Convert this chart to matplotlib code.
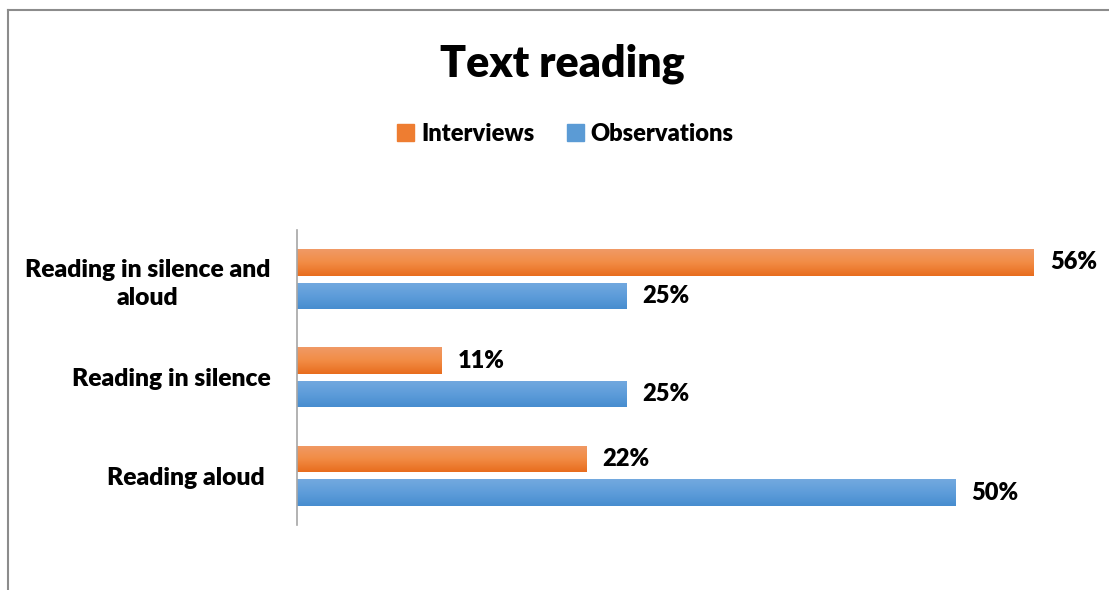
import numpy as np
import matplotlib.pyplot as plt
from matplotlib.lines import Line2D
from matplotlib.colors import LinearSegmentedColormap

categories = ['Reading aloud ', 'Reading in silence', 'Reading in silence and\naloud']
interviews = [22, 11, 56]
observations = [50, 25, 25]
series_names = ['Interviews', 'Observations']

plt.rcParams['font.family'] = ['Lato', 'DejaVu Sans']
plt.rcParams['font.weight'] = 'heavy'

W = 'heavy'
fs = 17

fig = plt.figure(figsize=(11.09, 5.90), dpi=100)
ax = fig.add_axes([0.2678, 0.1102, 0.712, 0.5])

orange_cmap = LinearSegmentedColormap.from_list('o', ['#E86D1E', '#F28C45', '#F09A66'])
blue_cmap = LinearSegmentedColormap.from_list('b', ['#478DCF', '#5E9DDA', '#73A9DF'])

y = np.arange(len(categories))
h = 0.27
off = 0.17
grad = np.linspace(0, 1, 64).reshape(-1, 1)

def grad_bars(vals, ypos, cmap, color):
    bars = ax.barh(ypos, vals, height=h, color=color, edgecolor='none')
    for b in bars:
        x0, y0 = b.get_x(), b.get_y()
        im = ax.imshow(grad, extent=[x0, x0 + b.get_width(), y0, y0 + b.get_height()],
                       cmap=cmap, aspect='auto', origin='lower', zorder=2)
        im.set_clip_path(b)
    return bars

grad_bars(interviews, y + off, orange_cmap, '#EE7D31')
grad_bars(observations, y - off, blue_cmap, '#5B9BD5')

for i in range(len(categories)):
    ax.text(interviews[i] + 1.2, y[i] + off, '%d%%' % interviews[i],
            va='center', ha='left', fontsize=fs, fontweight=W)
    ax.text(observations[i] + 1.2, y[i] - off, '%d%%' % observations[i],
            va='center', ha='left', fontsize=fs, fontweight=W)

ax.set_xlim(0, 60)
ax.set_ylim(-0.5, len(categories) - 0.5)
ax.set_yticks(y)
ax.set_yticklabels(categories, fontsize=17.7, fontweight=W, multialignment='center',
                   linespacing=1.35)
ax.tick_params(axis='y', length=0, pad=19)
ax.set_xticks([])
for s in ['top', 'right', 'bottom']:
    ax.spines[s].set_visible(False)
ax.spines['left'].set_color('#A6A6A6')
ax.spines['left'].set_linewidth(1.2)

fig.text(0.507, 0.892, 'Text reading', ha='center', va='center', fontsize=31, fontweight=W)

handles = [plt.Rectangle((0, 0), 1, 1, color='#EE7D31'),
           plt.Rectangle((0, 0), 1, 1, color='#5B9BD5')]
fig.legend(handles, series_names, loc='center', bbox_to_anchor=(0.51, 0.773), ncol=2,
           frameon=False, handlelength=0.7, handleheight=0.7,
           handletextpad=0.3, columnspacing=1.4, prop={'weight': W, 'size': fs})

# outer chart border (only top and left edges visible)
fig.add_artist(Line2D([0.0072, 1.0], [0.983, 0.983], color='#8C8C8C', lw=1.5, transform=fig.transFigure))
fig.add_artist(Line2D([0.0072, 0.0072], [0.0, 0.983], color='#8C8C8C', lw=1.5, transform=fig.transFigure))

fig.savefig('out.png', dpi=100)
